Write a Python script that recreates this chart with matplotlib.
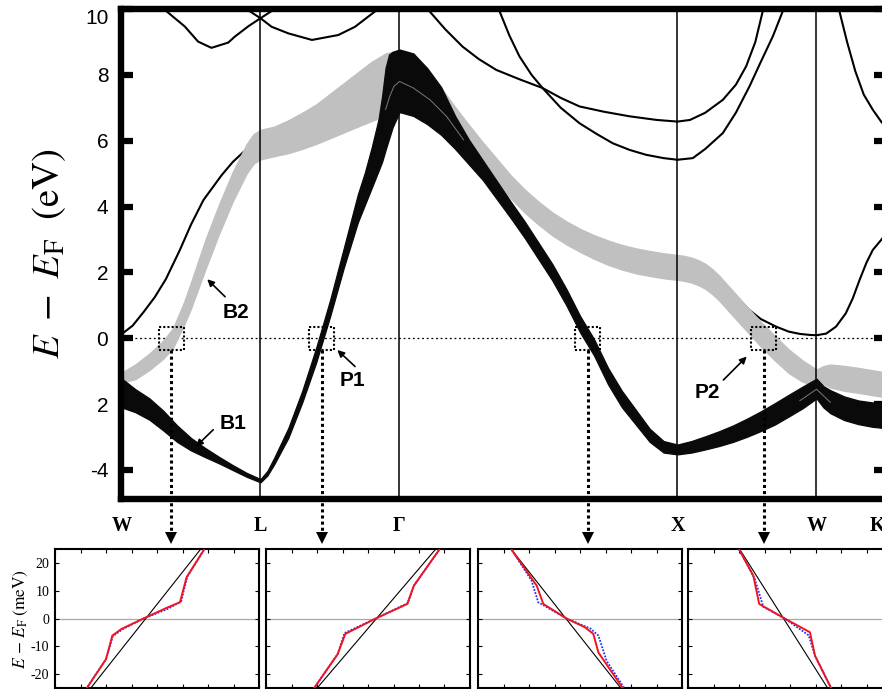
import numpy as np
import matplotlib
matplotlib.use("Agg")
import matplotlib.pyplot as plt
from matplotlib.patches import Rectangle
from matplotlib.transforms import blended_transform_factory, ScaledTranslation

plt.rcParams["mathtext.fontset"] = "stix"
plt.rcParams["font.family"] = ["Liberation Sans", "DejaVu Sans"]

# ---------------- high-symmetry path ----------------
kpath_pos = [0.0, 1.0, 2.0, 4.0, 5.0, 5.44]
kpath_lab = ["W", "L", "Γ", "X", "W", "K"]
kpath_lines = [1.0, 2.0, 4.0, 5.0]

energy_ticks = [10, 8, 6, 4, 2, 0, -2, -4]
energy_ticklabels = ["10", "8", "6", "4", "2", "0", "2", "-4"]

# ---------------- fat band B1 (black) ----------------
b1_k = [0.0, 0.1, 0.2, 0.3, 0.4, 0.5, 0.6, 0.7, 0.8, 0.9, 1.0,
        1.05, 1.1, 1.2, 1.3, 1.4, 1.5, 1.6, 1.7, 1.75, 1.8, 1.85, 1.875, 1.9, 1.925, 1.95, 2.0,
        2.1, 2.2, 2.3, 2.4, 2.5, 2.6, 2.7, 2.8, 2.9, 3.0, 3.1, 3.2, 3.3, 3.4,
        3.5, 3.6, 3.7, 3.8, 3.9, 4.0,
        4.1, 4.2, 4.3, 4.4, 4.5, 4.6, 4.7, 4.8, 4.9, 5.0,
        5.05, 5.1, 5.2, 5.3, 5.4, 5.5]
b1_e = [-1.66, -1.9, -2.15, -2.5, -2.9, -3.22, -3.47, -3.7, -3.93, -4.15, -4.33,
        -4.1, -3.72, -2.88, -1.78, -0.52, 0.9, 2.45, 3.94, 4.53, 5.18, 5.88, 6.36, 6.97, 7.34, 7.55, 7.82,
        7.7, 7.35, 6.9, 6.25, 5.65, 5.1, 4.5, 3.9, 3.3, 2.65, 2.0, 1.25, 0.42, -0.28,
        -1.15, -1.85, -2.4, -2.95, -3.3, -3.38,
        -3.3, -3.18, -3.05, -2.9, -2.72, -2.52, -2.3, -2.05, -1.8, -1.53,
        -1.78, -1.93, -2.13, -2.25, -2.32, -2.36]
b1_w = [0.88, 0.7, 0.65, 0.6, 0.5, 0.38, 0.28, 0.2, 0.15, 0.12, 0.1,
        0.14, 0.2, 0.3, 0.35, 0.45, 0.5, 0.6, 0.85, 0.98, 1.23, 1.58, 2.0, 2.5, 2.56, 2.3, 1.9,
        1.9, 1.7, 1.45, 1.0, 0.75, 0.6, 0.55, 0.5, 0.5, 0.5, 0.5, 0.5, 0.5, 0.5,
        0.5, 0.5, 0.45, 0.4, 0.35, 0.3,
        0.35, 0.4, 0.45, 0.5, 0.55, 0.6, 0.65, 0.66, 0.66, 0.6,
        0.65, 0.7, 0.72, 0.72, 0.74, 0.75]

# band boundaries running inside B1
inner_g_k = [1.9, 1.93, 1.96, 2.0, 2.1, 2.22, 2.34, 2.46]
inner_g_e = [6.95, 7.35, 7.65, 7.8, 7.6, 7.24, 6.73, 6.03]
inner_w_k = [4.88, 5.0, 5.1]
inner_w_e = [-1.9, -1.55, -1.95]

# ---------------- fat band B2 (grey) ----------------
b2_k = [0.0, 0.1, 0.2, 0.3, 0.37, 0.45, 0.5, 0.6, 0.7, 0.8, 0.9, 0.95, 1.0,
        1.1, 1.2, 1.3, 1.4, 1.5, 1.6, 1.7, 1.8, 1.9, 2.0,
        2.1, 2.2, 2.3, 2.4, 2.5, 2.6, 2.7, 2.8, 2.9, 3.0, 3.1, 3.2, 3.3, 3.4,
        3.5, 3.6, 3.7, 3.8, 3.9, 4.0,
        4.05, 4.1, 4.15, 4.2, 4.25, 4.3, 4.4, 4.5, 4.6, 4.7, 4.8, 4.9, 5.0,
        5.05, 5.1, 5.2, 5.3, 5.4, 5.5]
b2_e = [-1.2, -1.02, -0.72, -0.35, 0.0, 0.75, 1.3, 2.5, 3.6, 4.6, 5.45, 5.75, 5.88,
        5.98, 6.12, 6.3, 6.5, 6.75, 7.0, 7.25, 7.5, 7.7, 7.8,
        7.8, 7.55, 7.1, 6.6, 6.1, 5.6, 5.1, 4.6, 4.17, 3.8, 3.47, 3.2, 2.97, 2.77,
        2.6, 2.46, 2.35, 2.27, 2.2, 2.15,
        2.12, 2.07, 1.99, 1.88, 1.72, 1.52, 1.05, 0.58, 0.12, -0.3, -0.7, -1.0, -1.2,
        -1.12, -1.15, -1.22, -1.28, -1.35, -1.42]
b2_w = [0.3, 0.45, 0.5, 0.55, 0.6, 0.7, 0.8, 0.9, 0.9, 0.9, 0.9, 0.9, 0.9,
        0.9, 1.0, 1.1, 1.2, 1.35, 1.5, 1.65, 1.8, 1.9, 1.9,
        1.6, 1.3, 1.0, 0.85, 0.75, 0.7, 0.7, 0.7, 0.7, 0.7, 0.7, 0.7, 0.7, 0.72,
        0.74, 0.75, 0.76, 0.76, 0.76, 0.76,
        0.76, 0.76, 0.76, 0.76, 0.76, 0.76, 0.76, 0.75, 0.75, 0.75, 0.72, 0.65, 0.5,
        0.55, 0.7, 0.76, 0.76, 0.76, 0.76]

# ---------------- plain bands ----------------
top_wl_k = [0.27, 0.324, 0.455, 0.551, 0.647, 0.768, 0.815, 0.914, 1.0,
            1.08, 1.2, 1.37, 1.56, 1.68, 1.825, 1.87]
top_wl_e = [10.3, 9.93, 9.47, 9.01, 8.82, 8.98, 9.16, 9.48, 9.72,
            9.46, 9.26, 9.06, 9.21, 9.46, 9.93, 10.2]

vee_l_k = [0.88, 0.923, 1.0, 1.077, 1.12]
vee_l_e = [10.2, 9.93, 9.72, 9.93, 10.2]

low_wl_k = [0.0, 0.08, 0.16, 0.24, 0.32, 0.42, 0.5, 0.59, 0.72, 0.8, 0.876, 0.94, 1.0]
low_wl_e = [0.12, 0.38, 0.8, 1.25, 1.8, 2.68, 3.45, 4.2, 4.95, 5.35, 5.65, 5.82, 5.88]

gx_a_k = [2.15, 2.216, 2.33, 2.453, 2.57, 2.696, 2.86, 3.029, 3.16, 3.295, 3.47, 3.655, 3.85, 4.0]
gx_a_e = [10.3, 9.93, 9.38, 8.86, 8.48, 8.15, 7.87, 7.6, 7.3, 7.04, 6.88, 6.74, 6.63, 6.58]

gx_b_k = [2.69, 2.72, 2.79, 2.863, 2.95, 3.029, 3.16, 3.295, 3.42, 3.535, 3.655, 3.775, 3.9, 4.0]
gx_b_e = [10.3, 9.93, 9.2, 8.56, 8.0, 7.6, 7.0, 6.53, 6.2, 5.92, 5.72, 5.57, 5.47, 5.42]

xw_a_k = [4.0, 4.09, 4.2, 4.326, 4.42, 4.494, 4.56, 4.613, 4.64]
xw_a_e = [6.58, 6.63, 6.85, 7.24, 7.7, 8.26, 9.0, 9.93, 10.4]

xw_b_k = [4.0, 4.11, 4.2, 4.326, 4.42, 4.518, 4.6, 4.686, 4.757, 4.8]
xw_b_e = [5.42, 5.47, 5.75, 6.23, 6.85, 7.65, 8.4, 9.17, 9.93, 10.4]

xwk_c_k = [4.4, 4.518, 4.6, 4.71, 4.8, 4.88, 4.95, 5.0,
           5.07, 5.14, 5.21, 5.26, 5.31, 5.36, 5.405, 5.468, 5.52]
xwk_c_e = [1.35, 0.85, 0.58, 0.35, 0.2, 0.13, 0.1, 0.09,
           0.14, 0.35, 0.75, 1.2, 1.77, 2.3, 2.68, 3.0, 3.3]

wk_d_k = [5.13, 5.165, 5.22, 5.28, 5.34, 5.405, 5.47, 5.52]
wk_d_e = [10.4, 9.93, 9.0, 8.1, 7.4, 6.94, 6.55, 6.4]

plain_bands = [(top_wl_k, top_wl_e), (vee_l_k, vee_l_e), (low_wl_k, low_wl_e),
               (gx_a_k, gx_a_e), (gx_b_k, gx_b_e), (xw_a_k, xw_a_e),
               (xw_b_k, xw_b_e), (xwk_c_k, xwk_c_e), (wk_d_k, wk_d_e)]

# Fermi-level crossings that are zoomed in below
fermi_k = [0.357, 1.44, 3.353, 4.622]

# ---------------- zoomed dispersions near E_F (meV) ----------------
zoom_bare_x = [[1.37, 5.69], [1.97, 6.63], [1.31, 5.62], [2.03, 5.49]]
zoom_bare_e = [[-25.4, 24.8], [-25.4, 24.8], [24.8, -25.4], [24.8, -25.4]]

zoom_red_x = [[1.22, 2.0, 2.25, 2.61, 3.46, 4.38, 4.9, 5.16, 5.84],
              [1.86, 2.81, 3.11, 4.29, 5.54, 5.8, 6.79],
              [1.31, 2.29, 2.55, 3.47, 4.18, 4.51, 4.71, 5.69],
              [2.0, 2.55, 2.78, 3.79, 4.77, 4.97, 5.62]]
zoom_red_e = [[-25.4, -14.6, -6.1, -3.7, 0.0, 3.9, 5.9, 14.9, 24.8],
              [-25.4, -12.8, -5.5, 0.0, 5.3, 11.9, 24.8],
              [24.8, 11.9, 5.3, 0.0, -3.1, -5.5, -12.2, -25.4],
              [24.8, 15.5, 5.3, 0.0, -4.9, -13.4, -25.4]]

zoom_blue_x = [[1.22, 2.0, 2.27, 2.65, 3.46, 4.45, 4.95, 5.18, 5.84],
               [1.86, 2.81, 3.08, 4.29, 5.56, 5.8, 6.79],
               [1.31, 2.09, 2.35, 3.47, 4.4, 4.71, 5.03, 5.75],
               [2.0, 2.6, 2.94, 3.79, 4.72, 4.97, 5.62]]
zoom_blue_e = [[-25.4, -14.6, -6.3, -3.8, 0.0, 3.6, 6.3, 15.0, 24.8],
               [-25.4, -12.8, -5.2, 0.0, 5.6, 11.9, 24.8],
               [24.8, 13.7, 5.9, 0.0, -3.6, -6.1, -15.2, -25.4],
               [24.8, 14.5, 4.3, 0.0, -6.0, -13.4, -25.4]]

zoom_ticks = [-20, -10, 0, 10, 20]

# ---------------- figure ----------------
FW, FH = 882, 689
fig = plt.figure(figsize=(FW / 100, FH / 100), dpi=100)


def px_axes(left, top, right, bottom):
    return fig.add_axes([left / FW, 1 - bottom / FH, (right - left) / FW, (bottom - top) / FH])


ax = px_axes(121.5, 9, 886, 498.5)
ax.set_xlim(0, 5.5)
ax.set_ylim(-4.87, 10)

GREY = "#c0c0c0"
BLACK = "#0a0a0a"

ax.axhline(0, color="k", lw=0.9, ls=(0, (1.5, 2.2)), zorder=1)

for kk, ee in plain_bands:
    ax.plot(kk, ee, color="k", lw=1.5, zorder=2, solid_capstyle="round")


def fat_band(k, e, w, color, z):
    k = np.asarray(k)
    e = np.asarray(e)
    w = np.asarray(w)
    ax.fill_between(k, e - w / 2, e + w / 2, color=color, ec=color, lw=0.9, zorder=z)


fat_band(b2_k, b2_e, b2_w, GREY, 3)
for kv in kpath_lines:
    ax.axvline(kv, color="k", lw=1.1, zorder=3.5)
fat_band(b1_k, b1_e, b1_w, BLACK, 4)
ax.plot(inner_g_k, inner_g_e, color="#7a7a7a", lw=0.7, zorder=4.5)
ax.plot(inner_w_k, inner_w_e, color="#7a7a7a", lw=0.7, zorder=4.5)

# frame and ticks
for sp in ax.spines.values():
    sp.set_linewidth(4.6)
    sp.set_zorder(10)

ax.set_yticks(energy_ticks)
ax.set_yticklabels(energy_ticklabels)
ax.tick_params(axis="y", direction="in", length=8.5, width=4.5, left=True, right=True,
               labelsize=15, pad=9.5)
ax.set_xticks(kpath_pos)
ax.set_xticklabels(kpath_lab, fontfamily="Liberation Serif", fontweight="bold", fontsize=14.5)
ax.tick_params(axis="x", which="major", length=0, pad=12.5)
ax.set_xticks(kpath_lines, minor=True)
ax.tick_params(axis="x", which="minor", direction="in", length=7, width=4.5,
               top=True, bottom=True)

ax.set_ylabel(r"$E\ -\ E_{\mathrm{F}}\ \ (\mathrm{eV})$", fontsize=28, labelpad=12)

# boxes around the Fermi crossings and the drop arrows to the zoom panels
box_hw, box_hh = 0.09, 0.35
for kf in fermi_k:
    ax.add_patch(Rectangle((kf - box_hw, -box_hh), 2 * box_hw, 2 * box_hh, fill=False,
                           ec="k", lw=1.5, ls=(0, (1, 1)), zorder=6))

# zoom panels
panel_left = [55, 266, 478.3, 688.3]
for i, lft in enumerate(panel_left):
    ia = px_axes(lft, 549.3, lft + 204, 688)
    ia.set_xlim(0, 8)
    ia.set_ylim(-25, 25)
    ia.axhline(0, color="#a8a8a8", lw=0.9, zorder=1)
    ia.plot(zoom_bare_x[i], zoom_bare_e[i], color="k", lw=0.8, zorder=2)
    ia.plot(zoom_blue_x[i], zoom_blue_e[i], color="#2030ff", lw=1.3, ls=(0, (1, 0.8)), zorder=3)
    ia.plot(zoom_red_x[i], zoom_red_e[i], color="#ee1520", lw=1.4, zorder=4)
    ia.set_xticks(np.arange(0, 9))
    ia.set_xticklabels([])
    ia.set_yticks(zoom_ticks)
    ia.tick_params(direction="in", length=3, width=0.8, top=True, bottom=True,
                   left=True, right=True)
    for sp in ia.spines.values():
        sp.set_linewidth(1.5)
    if i == 0:
        ia.set_yticklabels([str(v) for v in zoom_ticks], fontfamily="Liberation Serif",
                           fontsize=10)
        ia.tick_params(axis="y", pad=4)
        ia.set_ylabel(r"$E\,-\,E_{\mathrm{F}}\;(\mathrm{meV})$", fontsize=12.5, labelpad=1)
    else:
        ia.set_yticklabels([])

# dotted drop lines with arrow heads
btf = blended_transform_factory(ax.transData, fig.transFigure)
inv = fig.transFigure.inverted()
top_panel = 1 - 549.3 / FH
tip_y = top_panel + 6 / FH
base_y = tip_y + 11.6 / FH
for kf in fermi_k:
    y0 = inv.transform(ax.transData.transform((kf, -box_hh)))[1]
    ax.plot([kf, kf], [y0, base_y], transform=btf, color="k", lw=2.2, ls=(0, (1, 1)),
            clip_on=False, zorder=6)
    ax.plot([kf], [(tip_y + base_y) / 2], transform=btf, marker="v", ms=8.3, color="k",
            mew=0, clip_on=False, zorder=6)

# band labels
notes = [("B2", (0.824, 0.78), (0.745, 1.26), (0.617, 1.79)),
         ("B1", (0.802, -2.6), (0.66, -2.78), (0.536, -3.29)),
         ("P1", (1.658, -1.3), (1.68, -0.86), (1.553, -0.36)),
         ("P2", (4.216, -1.65), (4.33, -1.27), (4.498, -0.56))]
for txt, tpos, a0, a1 in notes:
    ax.text(tpos[0], tpos[1], txt, fontsize=15, fontweight="bold", ha="center",
            va="center", zorder=7)
    ax.annotate("", xy=a1, xytext=a0,
                arrowprops=dict(arrowstyle="-|>", color="k", lw=1.2, mutation_scale=10,
                                shrinkA=0, shrinkB=0), zorder=7)

# keep the top label clear of the frame
fig.canvas.draw()
for lab in ax.get_yticklabels():
    if lab.get_text() == "10":
        lab.set_transform(lab.get_transform() + ScaledTranslation(0, -7 / 100, fig.dpi_scale_trans))

fig.savefig("out.png", dpi=100)
